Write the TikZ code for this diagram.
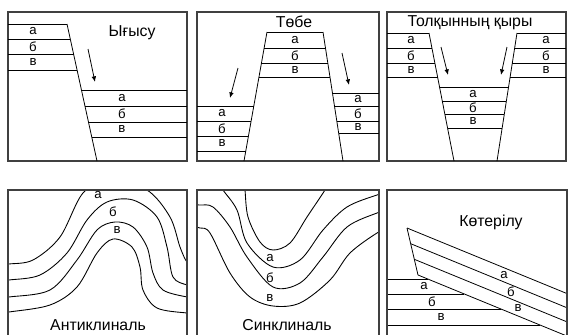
\documentclass[tikz,border=0pt]{standalone}
\usepackage{fontspec}
\setmainfont{Liberation Sans}
\usetikzlibrary{arrows.meta}

\begin{document}
\begin{tikzpicture}[
    x=0.02cm, y=-0.02cm,
    frame/.style={line width=0.8pt, black!75},
    layer/.style={line width=0.45pt},
    fold/.style={line width=0.5pt, smooth, tension=0.55},
    lbl/.style={inner sep=0pt, font=\fontsize{7.5}{8}\selectfont},
    title/.style={inner sep=0pt, font=\fontsize{9}{10}\selectfont},
    move/.style={line width=0.45pt, -{Latex[length=3.2pt, width=2.6pt]}}
]
\useasboundingbox (0,0) rectangle (569,335);

% Ығысу
\draw[frame] (8,12) rectangle (187,161);
\draw[layer] (67,24) -- (97,161);
\foreach \y in {24,39,54,70} \draw[layer] (8,\y) -- ({67+(\y-24)*0.219},\y);
\foreach \y in {90,106,122,137} \draw[layer] ({67+(\y-24)*0.219},\y) -- (187,\y);
\foreach \t/\y [count=\i] in {а/31.5,б/46.5,в/62} \node[lbl] (sl\i) at (33,\y) {\t};
\foreach \t/\y [count=\i] in {а/98,б/114,в/129.5} \node[lbl] (sr\i) at (122,\y) {\t};
\node[title] (shift) at (132,33) {Ығысу};
\coordinate (s0) at (88,49);
\coordinate (s1) at (95,82);
\draw[move] (s0) -- (s1);

% Төбе
\draw[frame] (197,12) rectangle (379,161);
\draw[layer] (267,32) -- (244,161);
\draw[layer] (323,32) -- (343,161);
\foreach \y in {32,48,63,77} \draw[layer] ({267-(\y-32)*0.178},\y) -- ({323+(\y-32)*0.155},\y);
\foreach \y in {106,121,136,151} \draw[layer] (197,\y) -- ({267-(\y-32)*0.178},\y);
\foreach \y in {93,106,121,133} \draw[layer] ({323+(\y-32)*0.155},\y) -- (379,\y);
\foreach \t/\y [count=\i] in {а/40,б/55.5,в/70} \node[lbl] (hm\i) at (295,\y) {\t};
\foreach \t/\y [count=\i] in {а/113.5,б/128.5,в/143.5} \node[lbl] (hl\i) at (222,\y) {\t};
\foreach \t/\y [count=\i] in {а/99.5,б/113.5,в/127} \node[lbl] (hr\i) at (358,\y) {\t};
\node[title] (horst) at (294,22) {Төбе};
\coordinate (h0) at (238,68);
\coordinate (h1) at (230,98);
\coordinate (h2) at (342,53);
\coordinate (h3) at (349,85);
\draw[move] (h0) -- (h1);
\draw[move] (h2) -- (h3);

% Толқынның қыры
\draw[frame] (387,12) rectangle (566,161);
\draw[layer] (429,33) -- (454,161);
\draw[layer] (517,33) -- (497,161);
\foreach \y in {33,48,63,77} {
    \draw[layer] (387,\y) -- ({429+(\y-33)*0.195},\y);
    \draw[layer] ({517-(\y-33)*0.156},\y) -- (566,\y);
}
\foreach \y in {87,101,114,128} \draw[layer] ({429+(\y-33)*0.195},\y) -- ({517-(\y-33)*0.156},\y);
\foreach \t/\y [count=\i] in {а/40.5,б/55.5,в/70} {
    \node[lbl] (gl\i) at (411,\y) {\t};
    \node[lbl] (gr\i) at (546,\y) {\t};
}
\foreach \t/\y [count=\i] in {а/94,б/107.5,в/121} \node[lbl] (gm\i) at (473,\y) {\t};
\node[title] (crest) at (470,23) {Толқынның қыры};
\coordinate (g0) at (441,47);
\coordinate (g1) at (448,75);
\coordinate (g2) at (507,47);
\coordinate (g3) at (501,75);
\draw[move] (g0) -- (g1);
\draw[move] (g2) -- (g3);

% Антиклиналь
\begin{scope}
\clip (8,190) rectangle (187,335);
\draw[fold] plot coordinates {(2,265) (9,264) (33,260) (60,237) (83,193) (110,180) (147,190) (170,217) (180,247) (187,262) (195,266)};
\draw[fold] plot coordinates {(2,281) (9,280) (40,275) (67,253) (87,220) (107,202) (133,200) (157,217) (167,247) (173,277) (187,285) (195,286)};
\draw[fold] plot coordinates {(2,298) (9,297) (50,290) (77,260) (97,230) (115,222) (133,227) (147,247) (153,273) (163,290) (187,297) (195,297)};
\draw[fold] plot coordinates {(2,313) (9,312) (50,305) (77,287) (97,253) (113,239) (132,247) (140,267) (143,290) (157,308) (187,313) (195,313)};
\end{scope}
\draw[frame] (8,335) -- (8,190) -- (187,190) -- (187,335);
\node[lbl] (al1) at (98,195) {а};
\node[lbl] (al2) at (113,212) {б};
\node[lbl] (al3) at (117,230) {в};
\node[title] (anti) at (98,325) {Антиклиналь};

% Синклиналь
\begin{scope}
\clip (197,190) rectangle (379,335);
\draw[fold] plot coordinates {(244,182) (245,190) (248,217) (260,242) (273,250) (290,243) (307,217) (325,190) (329,182)};
\draw[fold] plot coordinates {(219,182) (223,190) (237,210) (247,243) (273,267) (300,260) (323,230) (347,207) (377,195) (386,193)};
\draw[fold] plot coordinates {(190,205) (200,205) (213,207) (230,227) (247,257) (273,287) (300,283) (323,257) (347,227) (377,213) (386,211)};
\draw[fold] plot coordinates {(190,226) (200,228) (210,233) (230,273) (250,297) (273,306) (300,303) (330,280) (350,253) (377,233) (386,230)};
\end{scope}
\draw[frame] (197,335) -- (197,190) -- (379,190) -- (379,335);
\node[lbl] (sy1) at (270,258) {а};
\node[lbl] (sy2) at (270,278) {б};
\node[lbl] (sy3) at (270,298) {в};
\node[title] (syn) at (287,325) {Синклиналь};

% Көтерілу
\begin{scope}
\clip (387,190) rectangle (567,335);
\draw[layer] (407,228) -- (418,275);
\draw[layer] (407,228) -- (580,298.9);
\draw[layer] (410.7,243.7) -- (580,313.1);
\draw[layer] (414.3,259.3) -- (580,327.2);
\draw[layer] (418,275) -- (580,341.4);
\foreach \y in {279,294,309,325} \draw[layer] (387,\y) -- ({418+(\y-275)/0.41},\y);
\end{scope}
\draw[frame] (387,335) -- (387,190) -- (567,190) -- (567,335);
\foreach \t/\x/\y [count=\i] in {а/504/275,б/511/292,в/518/308} \node[lbl] (up\i) at (\x,\y) {\t};
\foreach \t/\x/\y [count=\i] in {а/424/286.5,б/432/301.5,в/441/317} \node[lbl] (lo\i) at (\x,\y) {\t};
\node[title] (uplift) at (491,222) {Көтерілу};
\end{tikzpicture}
\end{document}
